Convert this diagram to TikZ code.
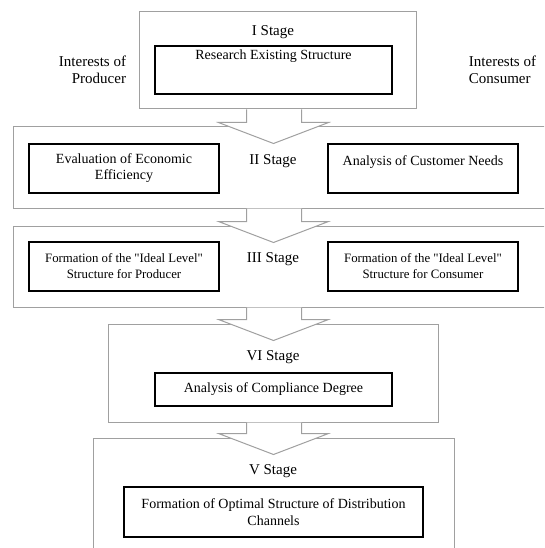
\documentclass[tikz,border=0pt]{standalone}
\usepackage{fontspec}
\setmainfont{Liberation Serif}
\usetikzlibrary{calc,positioning}

\definecolor{framegray}{RGB}{160,160,160}

% arrow from the bottom of one stage frame to the top of the next
\newcommand{\stagearrow}[2]{%
  \draw[flow] ($(axis |- #1.south)+(-27,0)$) -- ($(axis |- #2.north)+(-27,-4)$)
    -- ($(axis |- #2.north)+(-55,-4)$) -- ($(axis |- #2.north)+(0,17)$)
    -- ($(axis |- #2.north)+(55,-4)$) -- ($(axis |- #2.north)+(28,-4)$)
    -- ($(axis |- #1.south)+(28,0)$);}

\begin{document}
\begin{tikzpicture}[x=1pt,y=-1pt]
  \tikzstyle{every node} = [font=\fontsize{14}{16}\selectfont]
  \tikzstyle{frame} = [draw=framegray,line width=1pt,inner sep=0pt]
  \tikzstyle{task} = [draw,line width=1.5pt,align=center,inner sep=3pt]
  \tikzstyle{stage} = [font=\fontsize{15}{17}\selectfont,inner sep=0pt]
  \tikzstyle{side} = [font=\fontsize{15}{17}\selectfont,inner sep=0pt]
  \tikzstyle{flow} = [draw=framegray,line width=1pt,fill=white]

  \clip (0,0) rectangle (544,548);
  \coordinate (axis) at (273.5,0);

  % stage frames
  \node[frame,minimum width=277pt,minimum height=97pt] (S1) at (277.5,60.5) {};
  \node[frame,minimum width=557pt,minimum height=81pt] (S2) at (291.5,167.5) {};
  \node[frame,minimum width=557pt,minimum height=81pt] (S3) at (291.5,266.5) {};
  \node[frame,minimum width=330pt,minimum height=98pt] (S4) at (273,373) {};
  \node[frame,minimum width=361pt,minimum height=130pt] (S5) at (273.5,503) {};

  \stagearrow{S1}{S2}
  \stagearrow{S2}{S3}
  \stagearrow{S3}{S4}
  \stagearrow{S4}{S5}

  % stage I
  \node[stage] (L1) at (273,32) {I Stage};
  \node[task,minimum width=237pt,text height=11pt,text depth=31pt] (research) at (273.5,70) {Research Existing Structure};
  \node[side,left=28pt of research.west,align=right] (producer) {Interests of\\Producer};
  \node[side,right=76pt of research.east,align=left] (consumer) {Interests of\\Consumer};

  % stage II
  \node[stage] (L2) at (273,161) {II Stage};
  \node[task,minimum width=190pt,minimum height=49pt] (efficiency) at (124,168.5) {Evaluation of Economic\\Efficiency};
  \node[task,minimum width=190pt,text height=19pt,text depth=24pt] (needs) at (423,168.5) {Analysis of Customer Needs};

  % stage III
  \node[stage] (L3) at (273,259) {III Stage};
  \node[task,minimum width=190pt,minimum height=49pt,font=\fontsize{12.8}{16}\selectfont] (idealP) at (124,266.5) {Formation of the \textquotedbl Ideal Level\textquotedbl\\Structure for Producer};
  \node[task,minimum width=190pt,minimum height=49pt,font=\fontsize{12.8}{16}\selectfont] (idealC) at (423,266.5) {Formation of the \textquotedbl Ideal Level\textquotedbl\\Structure for Consumer};

  % stage VI
  \node[stage] (L4) at (273,357) {VI Stage};
  \node[task,minimum width=237pt,minimum height=33pt] (compliance) at (273.5,389.5) {Analysis of Compliance Degree};

  % stage V
  \node[stage] (L5) at (273,471) {V Stage};
  \node[task,minimum width=299pt,minimum height=50pt,font=\fontsize{14}{17.5}\selectfont] (optimal) at (273.5,512) {Formation of Optimal Structure of Distribution\\Channels};

\end{tikzpicture}
\end{document}
